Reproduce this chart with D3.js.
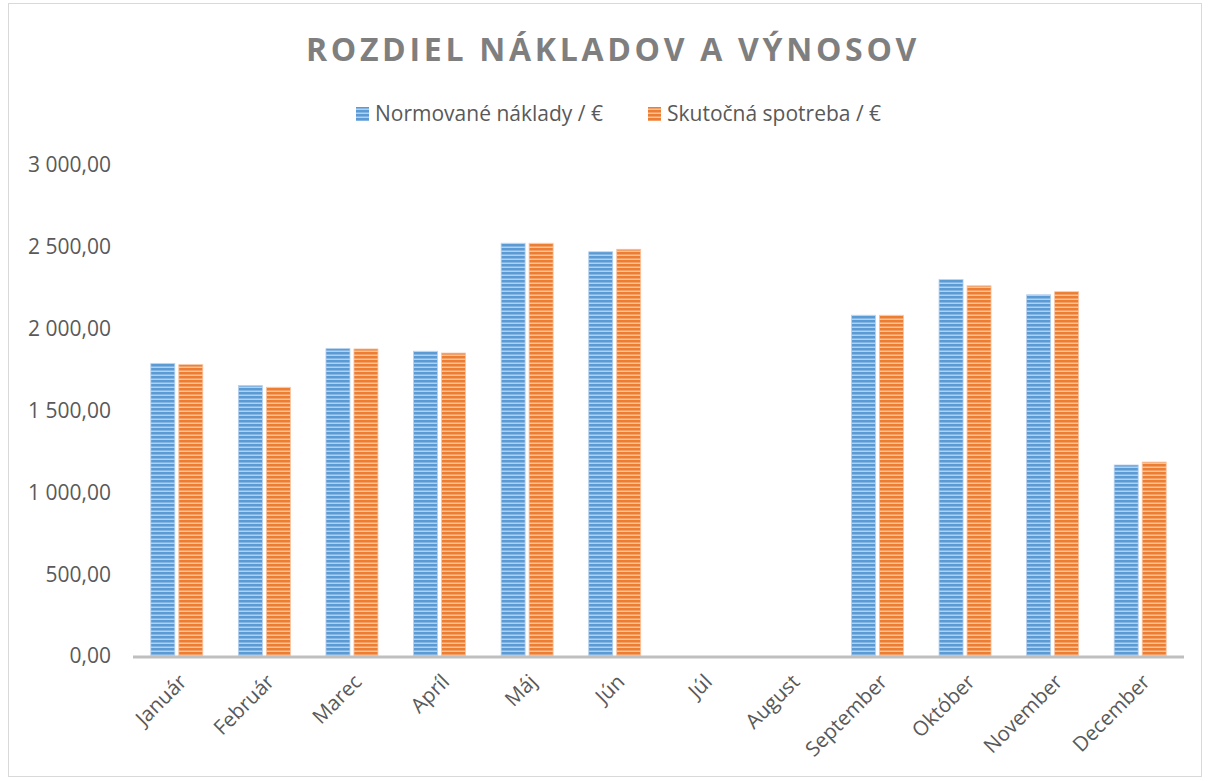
<!DOCTYPE html>
<html lang="sk">
<head>
<meta charset="utf-8">
<title>Rozdiel nákladov a výnosov</title>
<script src="https://cdn.jsdelivr.net/npm/d3@7"></script>
<style>
  html, body { margin: 0; padding: 0; background: #fff; }
  svg text { font-family: "Open Sans", "Noto Sans", sans-serif; }
</style>
</head>
<body>
<div id="chart"></div>
<script>

var months = ["Január", "Február", "Marec", "Apríl", "Máj", "Jún", "Júl", "August", "September", "Október", "November", "December"];
var seriesNames = ["Normované náklady / €", "Skutočná spotreba / €"];
var normovane = [1788, 1652, 1878, 1862, 2522, 2470, 0, 0, 2082, 2300, 2207, 1167];
var skutocna  = [1780, 1642, 1876, 1851, 2522, 2485, 0, 0, 2082, 2262, 2226, 1185];
var yTicks = [0, 500, 1000, 1500, 2000, 2500, 3000];

var width = 1210, height = 781;
var margin = {top: 165, right: 26, bottom: 125, left: 133};

var svg = d3.select("#chart").append("svg")
    .attr("width", width)
    .attr("height", height);

// outer chart border
svg.append("rect")
    .attr("x", 8.5).attr("y", 3.5)
    .attr("width", 1193).attr("height", 773)
    .style("fill", "#fff")
    .style("stroke", "#d9d9d9")
    .style("stroke-width", 1);

// striped fills
var colors = [
  {id: "stripeBlue", dark: "#5b9bd5", light: "#b4d0ee"},
  {id: "stripeOrange", dark: "#ed7d31", light: "#f8c3a0"}
];
var defs = svg.append("defs");
colors.forEach(function(c) {
  var p = defs.append("pattern")
      .attr("id", c.id)
      .attr("patternUnits", "userSpaceOnUse")
      .attr("width", 8).attr("height", 4);
  p.append("rect").attr("width", 8).attr("height", 4).style("fill", c.light);
  p.append("rect").attr("width", 8).attr("height", 2.5).style("fill", c.dark);
});

var x = d3.scaleBand()
    .domain(months)
    .range([margin.left, width - margin.right]);

var y = d3.scaleLinear()
    .domain([0, 3000])
    .range([656, margin.top]);

var barW = 24, barGap = 4;

var skLocale = d3.formatLocale({decimal: ",", thousands: "\u00a0", grouping: [3], currency: ["", " €"]});
var fmt = skLocale.format(",.2f");

// y labels
svg.append("g").selectAll("text")
    .data(yTicks)
    .enter().append("text")
    .attr("x", 111)
    .attr("y", function(d) { return y(d); })
    .attr("dy", "0.35em")
    .attr("text-anchor", "end")
    .style("font-size", "21px")
    .style("fill", "#595959")
    .text(function(d) { return fmt(d); });

// bars
var all = [normovane, skutocna];
all.forEach(function(vals, s) {
  svg.append("g").selectAll("rect")
      .data(vals)
      .enter().append("rect")
      .attr("x", function(d, i) {
        var c = x(months[i]) + x.bandwidth() / 2;
        return s === 0 ? c - barGap / 2 - barW : c + barGap / 2;
      })
      .attr("y", function(d) { return y(d); })
      .attr("width", barW)
      .attr("height", function(d) { return y(0) - y(d); })
      .style("fill", "url(#" + colors[s].id + ")")
      .style("stroke", colors[s].light)
      .style("stroke-width", 0.8);
});

// x axis line
svg.append("line")
    .attr("x1", margin.left).attr("x2", width - margin.right)
    .attr("y1", y(0) + 1).attr("y2", y(0) + 1)
    .style("stroke", "#bfbfbf")
    .style("stroke-width", 3);

// x labels
svg.append("g").selectAll("text")
    .data(months)
    .enter().append("text")
    .attr("transform", function(d) {
      var cx = x(d) + x.bandwidth() / 2 + 6;
      return "translate(" + cx + "," + 678 + ") rotate(-45)";
    })
    .attr("text-anchor", "end")
    .attr("dy", "0.35em")
    .style("font-size", "20.5px")
    .style("fill", "#595959")
    .text(function(d) { return d; });

// title
svg.append("text")
    .attr("x", 613)
    .attr("y", 50)
    .attr("dy", "0.35em")
    .attr("text-anchor", "middle")
    .style("font-size", "32px")
    .style("font-weight", "bold")
    .style("letter-spacing", "3.7px")
    .style("fill", "#7f7f7f")
    .text("ROZDIEL NÁKLADOV A VÝNOSOV");

// legend
var legendX = [356, 648];
seriesNames.forEach(function(name, s) {
  var g = svg.append("g").attr("transform", "translate(" + legendX[s] + ",114)");
  g.append("rect")
      .attr("x", 0).attr("y", -7)
      .attr("width", 13).attr("height", 14)
      .style("fill", "url(#" + colors[s].id + ")");
  g.append("text")
      .attr("x", 19)
      .attr("dy", "0.35em")
      .style("font-size", "21px")
      .style("fill", "#595959")
      .text(name);
});

</script>
</body>
</html>
